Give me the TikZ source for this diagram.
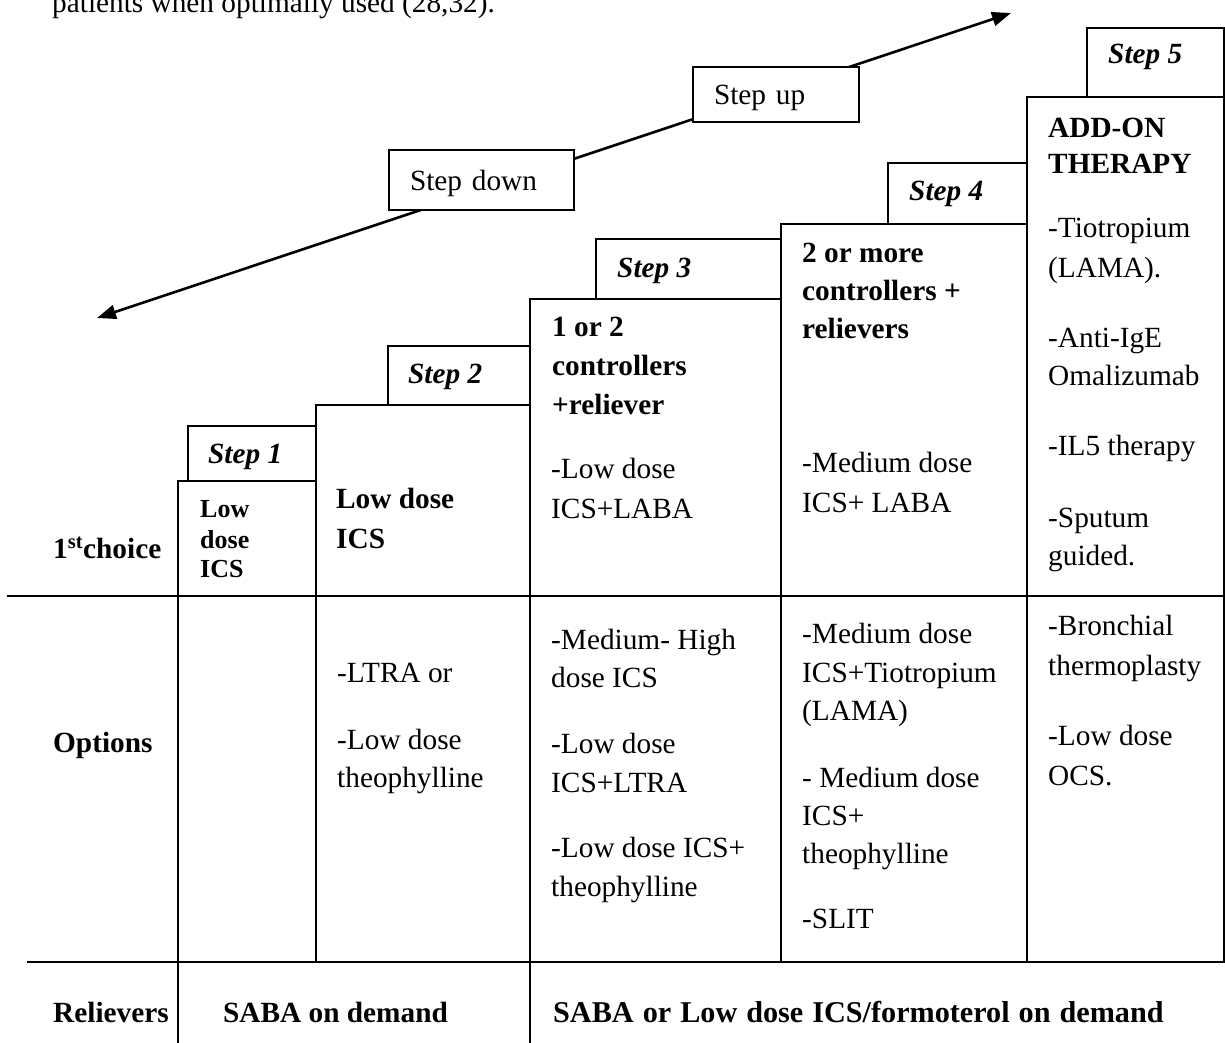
\documentclass[tikz,border=0pt]{standalone}
\usepackage{fontspec}
\setmainfont{Liberation Serif}
\usetikzlibrary{arrows.meta}
\begin{document}
\begin{tikzpicture}[x=1pt,y=-1pt,
  grid/.style={line width=2pt,line cap=rect},
  arr/.style={line width=2.6pt,{Triangle[length=19pt,width=14pt]}-{Triangle[length=19pt,width=14pt]}},
  txt/.style={anchor=base west,inner sep=0pt,font=\fontsize{29.3}{36}\selectfont},
  bt/.style={txt,font=\fontsize{29.3}{36}\selectfont\bfseries},
  stp/.style={txt,font=\fontsize{29.3}{36}\selectfont\bfseries\itshape},
  sm/.style={txt,font=\fontsize{26}{30}\selectfont\bfseries},
  sbox/.style={draw,line width=2pt,fill=white,anchor=north west,align=left,
    inner xsep=21pt,inner ysep=0pt,minimum height=60pt,text depth=0pt,
    font=\fontsize{29.3}{36}\selectfont}
]
\useasboundingbox (0,0) rectangle (1225,1042);

% cut-off line of text at the top
\node[txt] (top) at (52,12.7) {patients when optimally used (28,32).};

% step down / step up arrow
\coordinate (dn) at (97,318);
\coordinate (up) at (1011,13);
\draw[arr] (dn) -- (up);
\node[sbox,text width=143pt] (sd) at (388,149) {Step down};
\node[sbox,text width=124pt,minimum height=55pt] (su) at (692,66) {Step up};

% table lines
\draw[grid] (8,596) -- (1224,596);
\draw[grid] (28,962) -- (1224,962);
\draw[grid] (178,962) -- (178,1042);
\draw[grid] (530,962) -- (530,1042);

% step columns
\draw[grid] (178,481) rectangle (316,962);
\draw[grid] (316,405) rectangle (530,962);
\draw[grid] (530,299) rectangle (781,962);
\draw[grid] (781,224) rectangle (1027,962);
\draw[grid] (1027,97) rectangle (1224,962);

% step label boxes
\draw[grid] (188,426) rectangle (316,481);
\draw[grid] (388,346) rectangle (530,405);
\draw[grid] (596,239) rectangle (781,299);
\draw[grid] (888,163) rectangle (1027,224);
\draw[grid] (1087,28) rectangle (1224,97);

\node[stp] (s1) at (208,463) {Step 1};
\node[stp] (s2) at (408,383) {Step 2};
\node[stp] (s3) at (617,277) {Step 3};
\node[stp] (s4) at (909,200) {Step 4};
\node[stp] (s5) at (1108,63) {Step 5};

% row labels
\node[bt] (r1) at (53,558) {1\textsuperscript{st}choice};
\node[bt] (r2) at (53,752) {Options};
\node[bt] (r3) at (53,1022) {Relievers};

% step 1
\node[sm] (a1) at (200,517) {Low};
\node[sm] (a2) at (200,548) {dose};
\node[sm] (a3) at (200,577) {ICS};

% step 2
\node[bt] (b1) at (336,508) {Low dose};
\node[bt] (b2) at (336,548) {ICS};
\node[txt] (b3) at (337,682) {-LTRA or};
\node[txt] (b4) at (337,749) {-Low dose};
\node[txt] (b5) at (337,787) {theophylline};

% step 3
\node[bt] (c1) at (552,336) {1 or 2};
\node[bt] (c2) at (552,375) {controllers};
\node[bt] (c3) at (552,414) {+reliever};
\node[txt] (c4) at (551,478) {-Low dose};
\node[txt] (c5) at (551,518) {ICS+LABA};
\node[txt] (c6) at (551,649) {-Medium- High};
\node[txt] (c7) at (551,687) {dose ICS};
\node[txt] (c8) at (551,753) {-Low dose};
\node[txt] (c9) at (551,792) {ICS+LTRA};
\node[txt] (c10) at (551,857) {-Low dose ICS+};
\node[txt] (c11) at (551,896) {theophylline};

% step 4
\node[bt] (d1) at (802,262) {2 or more};
\node[bt] (d2) at (802,300) {controllers +};
\node[bt] (d3) at (802,338) {relievers};
\node[txt] (d4) at (802,472) {-Medium dose};
\node[txt] (d5) at (802,512) {ICS+ LABA};
\node[txt] (d6) at (802,643) {-Medium dose};
\node[txt] (d7) at (802,682) {ICS+Tiotropium};
\node[txt] (d8) at (802,720) {(LAMA)};
\node[txt] (d9) at (802,787) {- Medium dose};
\node[txt] (d10) at (802,825) {ICS+};
\node[txt] (d11) at (802,863) {theophylline};
\node[txt] (d12) at (802,928) {-SLIT};

% step 5
\node[bt] (e1) at (1048,137) {ADD-ON};
\node[bt] (e2) at (1048,173) {THERAPY};
\node[txt] (e3) at (1048,237) {-Tiotropium};
\node[txt] (e4) at (1048,277) {(LAMA).};
\node[txt] (e5) at (1048,347) {-Anti-IgE};
\node[txt] (e6) at (1048,385) {Omalizumab};
\node[txt] (e7) at (1048,455) {-IL5 therapy};
\node[txt] (e8) at (1048,527) {-Sputum};
\node[txt] (e9) at (1048,565) {guided.};
\node[txt] (e10) at (1048,635) {-Bronchial};
\node[txt] (e11) at (1048,675) {thermoplasty};
\node[txt] (e12) at (1048,745) {-Low dose};
\node[txt] (e13) at (1048,785) {OCS.};

% relievers
\node[bt] (f1) at (223,1022) {SABA on demand};
\node[bt,font=\fontsize{30.2}{36}\selectfont\bfseries] (f2) at (553,1022) {\spaceskip=9pt SABA or Low dose ICS/formoterol on demand};
\end{tikzpicture}
\end{document}
